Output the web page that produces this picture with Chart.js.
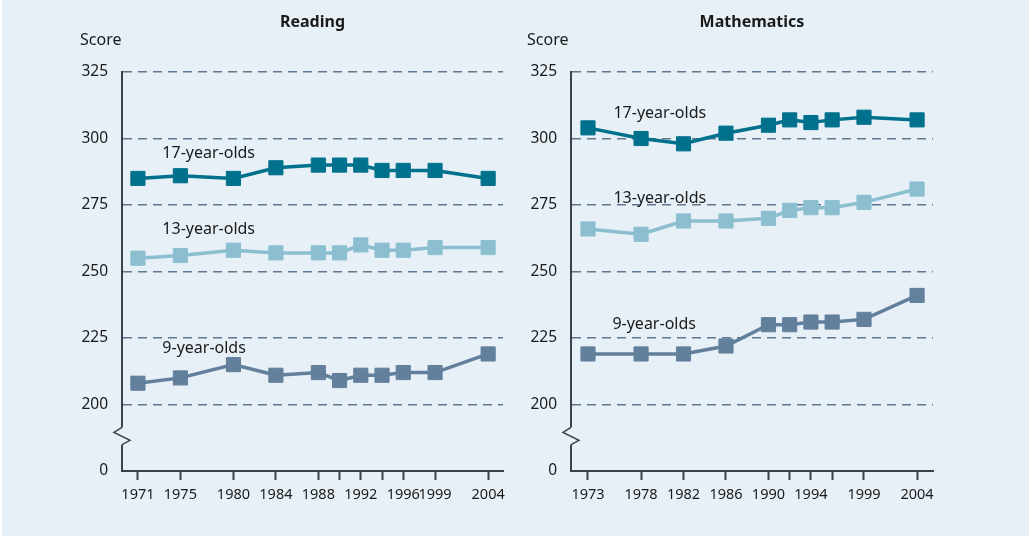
<!DOCTYPE html>
<html>
<head>
<meta charset="utf-8">
<script src="https://cdn.jsdelivr.net/npm/chart.js@4/dist/chart.umd.min.js"></script>
<style>
  html, body { margin: 0; padding: 0; background: #ffffff; }
  #panel { position: absolute; left: 2px; top: 0; width: 1027px; height: 536px; background: #e7f0f7; }
  #readingBox { position: absolute; left: 0; top: 0; width: 512px; height: 536px; }
  #mathBox { position: absolute; left: 512px; top: 0; width: 515px; height: 536px; }
</style>
</head>
<body>
<div id="panel">
  <div id="readingBox"><canvas id="readingChart"></canvas></div>
  <div id="mathBox"><canvas id="mathChart"></canvas></div>
</div>
<script>
// Reading
var readingYears = [1971, 1975, 1980, 1984, 1988, 1990, 1992, 1994, 1996, 1999, 2004];
var readingLabelYears = [1971, 1975, 1980, 1984, 1988, 1992, 1996, 1999, 2004];
var reading17 = [285, 286, 285, 289, 290, 290, 290, 288, 288, 288, 285];
var reading13 = [255, 256, 258, 257, 257, 257, 260, 258, 258, 259, 259];
var reading9 = [208, 210, 215, 211, 212, 209, 211, 211, 212, 212, 219];

// Mathematics
var mathYears = [1973, 1978, 1982, 1986, 1990, 1992, 1994, 1996, 1999, 2004];
var mathLabelYears = [1973, 1978, 1982, 1986, 1990, 1994, 1999, 2004];
var math17 = [304, 300, 298, 302, 305, 307, 306, 307, 308, 307];
var math13 = [266, 264, 269, 269, 270, 273, 274, 274, 276, 281];
var math9 = [219, 219, 219, 222, 230, 230, 231, 231, 232, 241];

// y ticks: the lowest step stands for 0 (axis is broken)
var scoreTicks = [175, 200, 225, 250, 275, 300, 325];
var scoreTickLabels = ['0', '200', '225', '250', '275', '300', '325'];

var bgColor = '#e7f0f7';
var axisColor = '#3b4049';
var gridColor = '#60778f';
var textColor = '#1a1a1a';
var c17 = '#00718c';
var c13 = '#8bbfd0';
var c9 = '#627f9c';
var fontFamily = '"Noto Sans", "Open Sans", sans-serif';

function points(years, values) {
    return years.map(function (yr, i) { return { x: yr, y: values[i] }; });
}

function series(label, years, values, color) {
    return {
        label: label,
        data: points(years, values),
        borderColor: color,
        backgroundColor: color,
        borderWidth: 3.5,
        lineTension: 0,
        pointStyle: 'rect',
        pointRadius: 10,
        pointHoverRadius: 10,
        pointBorderWidth: 1,
        pointBackgroundColor: color,
        pointBorderColor: color
    };
}

var decor = {
    id: 'decor',
    afterDraw: function (chart, args, opts) {
        var ctx = chart.ctx;
        var a = chart.chartArea;
        var ys = chart.scales.y;
        var xs = chart.scales.x;
        ctx.save();

        ctx.fillStyle = textColor;
        ctx.textBaseline = 'middle';
        ctx.textAlign = 'center';
        ctx.font = 'bold 16px ' + fontFamily;
        ctx.fillText(opts.title, (a.left + a.right) / 2, 22);

        ctx.textAlign = 'left';
        ctx.font = '16px ' + fontFamily;
        ctx.fillText('Score', opts.scoreX, 40);

        // axis break
        var y1 = ys.getPixelForValue(191.4);
        var y2 = ys.getPixelForValue(184.9);
        ctx.fillStyle = bgColor;
        ctx.fillRect(a.left - 3, y1, 6, y2 - y1);
        ctx.strokeStyle = axisColor;
        ctx.lineWidth = 1.5;
        ctx.beginPath();
        ctx.moveTo(a.left, y1);
        ctx.lineTo(a.left - 8, y1 + 5);
        ctx.lineTo(a.left + 8, y1 + 13);
        ctx.lineTo(a.left, y2);
        ctx.stroke();

        // series labels
        ctx.fillStyle = textColor;
        ctx.font = '16px ' + fontFamily;
        opts.labels.forEach(function (l) {
            ctx.fillText(l.text, xs.getPixelForValue(l.x), ys.getPixelForValue(l.y));
        });
        ctx.restore();
    }
};

function makeOptions(o) {
    return {
        responsive: true,
        maintainAspectRatio: false,
        animation: false,
        layout: { padding: { top: 72, right: o.padRight, bottom: 0, left: 0 } },
        plugins: {
            legend: { display: false },
            tooltip: { enabled: false },
            decor: { title: o.title, scoreX: o.scoreX, labels: o.labels }
        },
        scales: {
            x: {
                type: 'linear',
                min: o.xMin,
                max: o.xMax,
                afterBuildTicks: function (scale) {
                    scale.ticks = o.tickYears.map(function (v) { return { value: v }; });
                },
                afterFit: function (scale) { scale.height = 65; },
                border: { display: true, color: axisColor, width: 2 },
                grid: {
                    drawOnChartArea: false,
                    drawTicks: true,
                    tickLength: 9,
                    tickColor: axisColor,
                    tickWidth: 2
                },
                ticks: {
                    autoSkip: false,
                    maxRotation: 0,
                    padding: 6,
                    color: textColor,
                    font: { family: fontFamily, size: 14.5 },
                    callback: function (v) {
                        return o.labelYears.indexOf(v) >= 0 ? String(v) : '';
                    }
                }
            },
            y: {
                type: 'linear',
                min: 175,
                max: 325,
                afterBuildTicks: function (scale) {
                    scale.ticks = scoreTicks.map(function (v) { return { value: v }; });
                },
                afterFit: function (scale) { scale.width = o.yWidth; },
                // v4: border.dash dashes the grid lines, the axis line stays solid
                border: { display: true, color: axisColor, width: 2, dash: [9, 6] },
                grid: {
                    drawTicks: false,
                    lineWidth: 1.5,
                    color: function (c) {
                        return c.tick && c.tick.value === 175 ? 'rgba(0,0,0,0)' : gridColor;
                    }
                },
                ticks: {
                    padding: 14,
                    color: textColor,
                    font: { family: fontFamily, size: 15.5 },
                    callback: function (v) {
                        var i = scoreTicks.indexOf(v);
                        return i >= 0 ? scoreTickLabels[i] : '';
                    }
                }
            }
        }
    };
}

var readingOpts = makeOptions({
    title: 'Reading',
    scoreX: 78,
    padRight: 9,
    yWidth: 120,
    xMin: 1969.5,
    xMax: 2005.4,
    tickYears: readingYears,
    labelYears: readingLabelYears,
    labels: [
        { text: '17-year-olds', x: 1973.3, y: 294.2 },
        { text: '13-year-olds', x: 1973.3, y: 266 },
        { text: '9-year-olds', x: 1973.3, y: 221 }
    ]
});

var mathOpts = makeOptions({
    title: 'Mathematics',
    scoreX: 13,
    padRight: 96,
    yWidth: 57,
    xMin: 1971.4,
    xMax: 2005.5,
    tickYears: mathYears,
    labelYears: mathLabelYears,
    labels: [
        { text: '17-year-olds', x: 1975.4, y: 309.6 },
        { text: '13-year-olds', x: 1975.4, y: 277.3 },
        { text: '9-year-olds', x: 1975.3, y: 230 }
    ]
});

var ReadingChart = new Chart(document.getElementById('readingChart'), {
    type: 'line',
    data: {
        datasets: [
            series('17-year-olds', readingYears, reading17, c17),
            series('13-year-olds', readingYears, reading13, c13),
            series('9-year-olds', readingYears, reading9, c9)
        ]
    },
    options: readingOpts,
    plugins: [decor]
});

var MathChart = new Chart(document.getElementById('mathChart'), {
    type: 'line',
    data: {
        datasets: [
            series('17-year-olds', mathYears, math17, c17),
            series('13-year-olds', mathYears, math13, c13),
            series('9-year-olds', mathYears, math9, c9)
        ]
    },
    options: mathOpts,
    plugins: [decor]
});
</script>
</body>
</html>
